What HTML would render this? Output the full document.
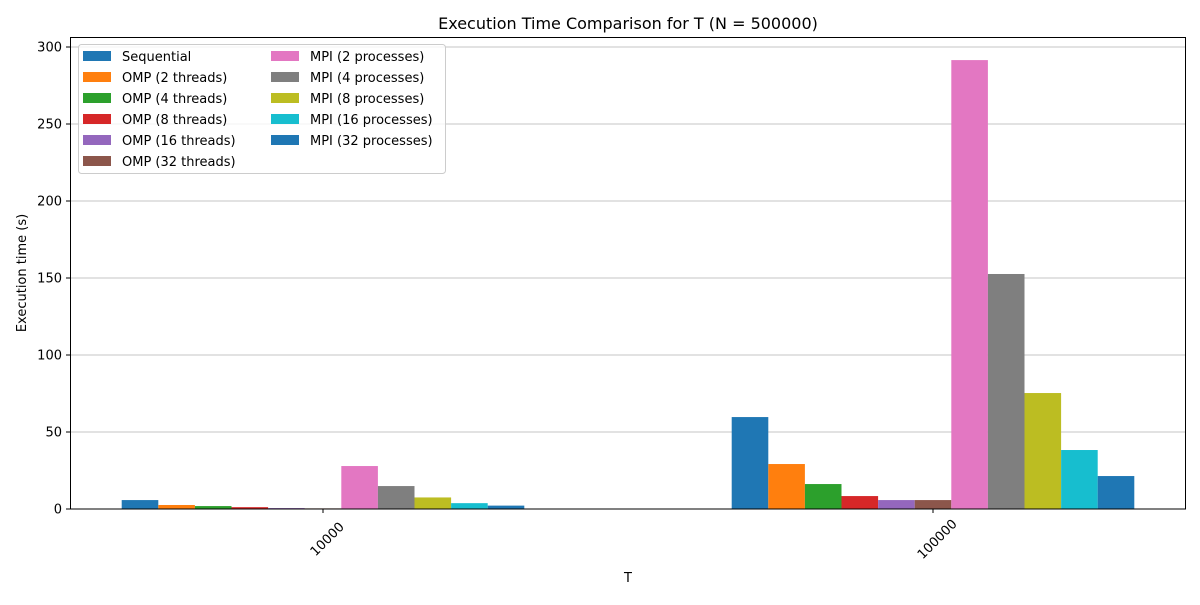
<!DOCTYPE html>
<html><head><meta charset="utf-8"><style>
body{margin:0;background:#fff;font-family:"Liberation Sans","DejaVu Sans",sans-serif}
svg text{font-family:"DejaVu Sans","Liberation Sans",sans-serif}
</style></head><body>
<svg id="chart" width="1200" height="600" xmlns="http://www.w3.org/2000/svg">
<rect width="1200" height="600" fill="#fff"/>
<text x="628" y="29" font-size="16" text-anchor="middle">Execution Time Comparison for T (N = 500000)</text>
<g id="grid"></g>
<g id="bars"></g>
<rect x="70.5" y="37.5" width="1115" height="471.5" fill="none" stroke="#000" stroke-width="1"/>
<g id="axes"></g>
<text x="628" y="582" font-size="13" text-anchor="middle">T</text>
<text x="26" y="273" font-size="13" text-anchor="middle" transform="rotate(-90 26 273)">Execution time (s)</text>
<g id="legend"></g>
</svg>
<script>
const categories=["10000","100000"];
const seriesNames=["Sequential","OMP (2 threads)","OMP (4 threads)","OMP (8 threads)","OMP (16 threads)","OMP (32 threads)","MPI (2 processes)","MPI (4 processes)","MPI (8 processes)","MPI (16 processes)","MPI (32 processes)"];
const values10000=[5.8,2.6,1.9,1.2,0.6,0.4,27.9,14.9,7.5,3.8,2.2];
const values100000=[59.7,29.2,16.2,8.4,5.8,5.8,291.5,152.6,75.3,38.3,21.4];
const yTicks=[0,50,100,150,200,250,300];
const colors=["#1f77b4","#ff7f0e","#2ca02c","#d62728","#9467bd","#8c564b","#e377c2","#7f7f7f","#bcbd22","#17becf","#1f77b4"];
const NS="http://www.w3.org/2000/svg";
const y=v=>509-v*1.54;
const x=i=>323+i*610;
const bw=36.6;
function mk(tag,attrs,parent){const e=document.createElementNS(NS,tag);for(const k in attrs)e.setAttribute(k,attrs[k]);parent.appendChild(e);return e;}
const grid=document.getElementById('grid'),axes=document.getElementById('axes'),bars=document.getElementById('bars'),leg=document.getElementById('legend');
yTicks.forEach(t=>{
 const l=mk('line',{x1:70,x2:1185,y1:y(t),y2:y(t),stroke:'#b0b0b0','stroke-width':0.8},grid);
 
 
 const tk=mk('line',{x1:66,x2:70,y1:y(t),y2:y(t),stroke:'#000'},axes);
 
 
 const tx=mk('text',{x:62,y:y(t)+4.5,'font-size':13,'text-anchor':'end'},axes);
 tx.textContent=t;
 
 
});
const data=[values10000,values100000];
categories.forEach((c,ci)=>{
 const cx=x(ci);
 data[ci].forEach((v,si)=>{
  const bx=cx+(si-5.5)*bw;
  const r=mk('rect',{x:bx,y:y(v),width:bw,height:509-y(v),fill:colors[si]},bars);
  
  
 });
 const tk=mk('line',{x1:cx,x2:cx,y1:509,y2:513,stroke:'#000'},axes);
 
 
 const cy=539;
 const tx=mk('text',{x:cx+4,y:cy+4.5,'font-size':13,'text-anchor':'middle',transform:`rotate(-45 ${cx+4} ${cy})`},axes);
 tx.textContent=c;
 
 
});
const lb=mk('rect',{x:78.5,y:44.5,width:367,height:129,fill:'#fff','fill-opacity':0.8,stroke:'#ccc',rx:3},leg);


seriesNames.forEach((n,i)=>{
 const col=i<6?0:1,row=i<6?i:i-6;
 const lx=col?271:83,ly=51+row*21;
 const g=mk('g',{},leg);
 
 
 mk('rect',{x:lx,y:ly,width:28,height:10,fill:colors[i]},g);
 const t=mk('text',{x:lx+39,y:ly+10,'font-size':13},g);
 t.textContent=n;
});
</script>
</body></html>
